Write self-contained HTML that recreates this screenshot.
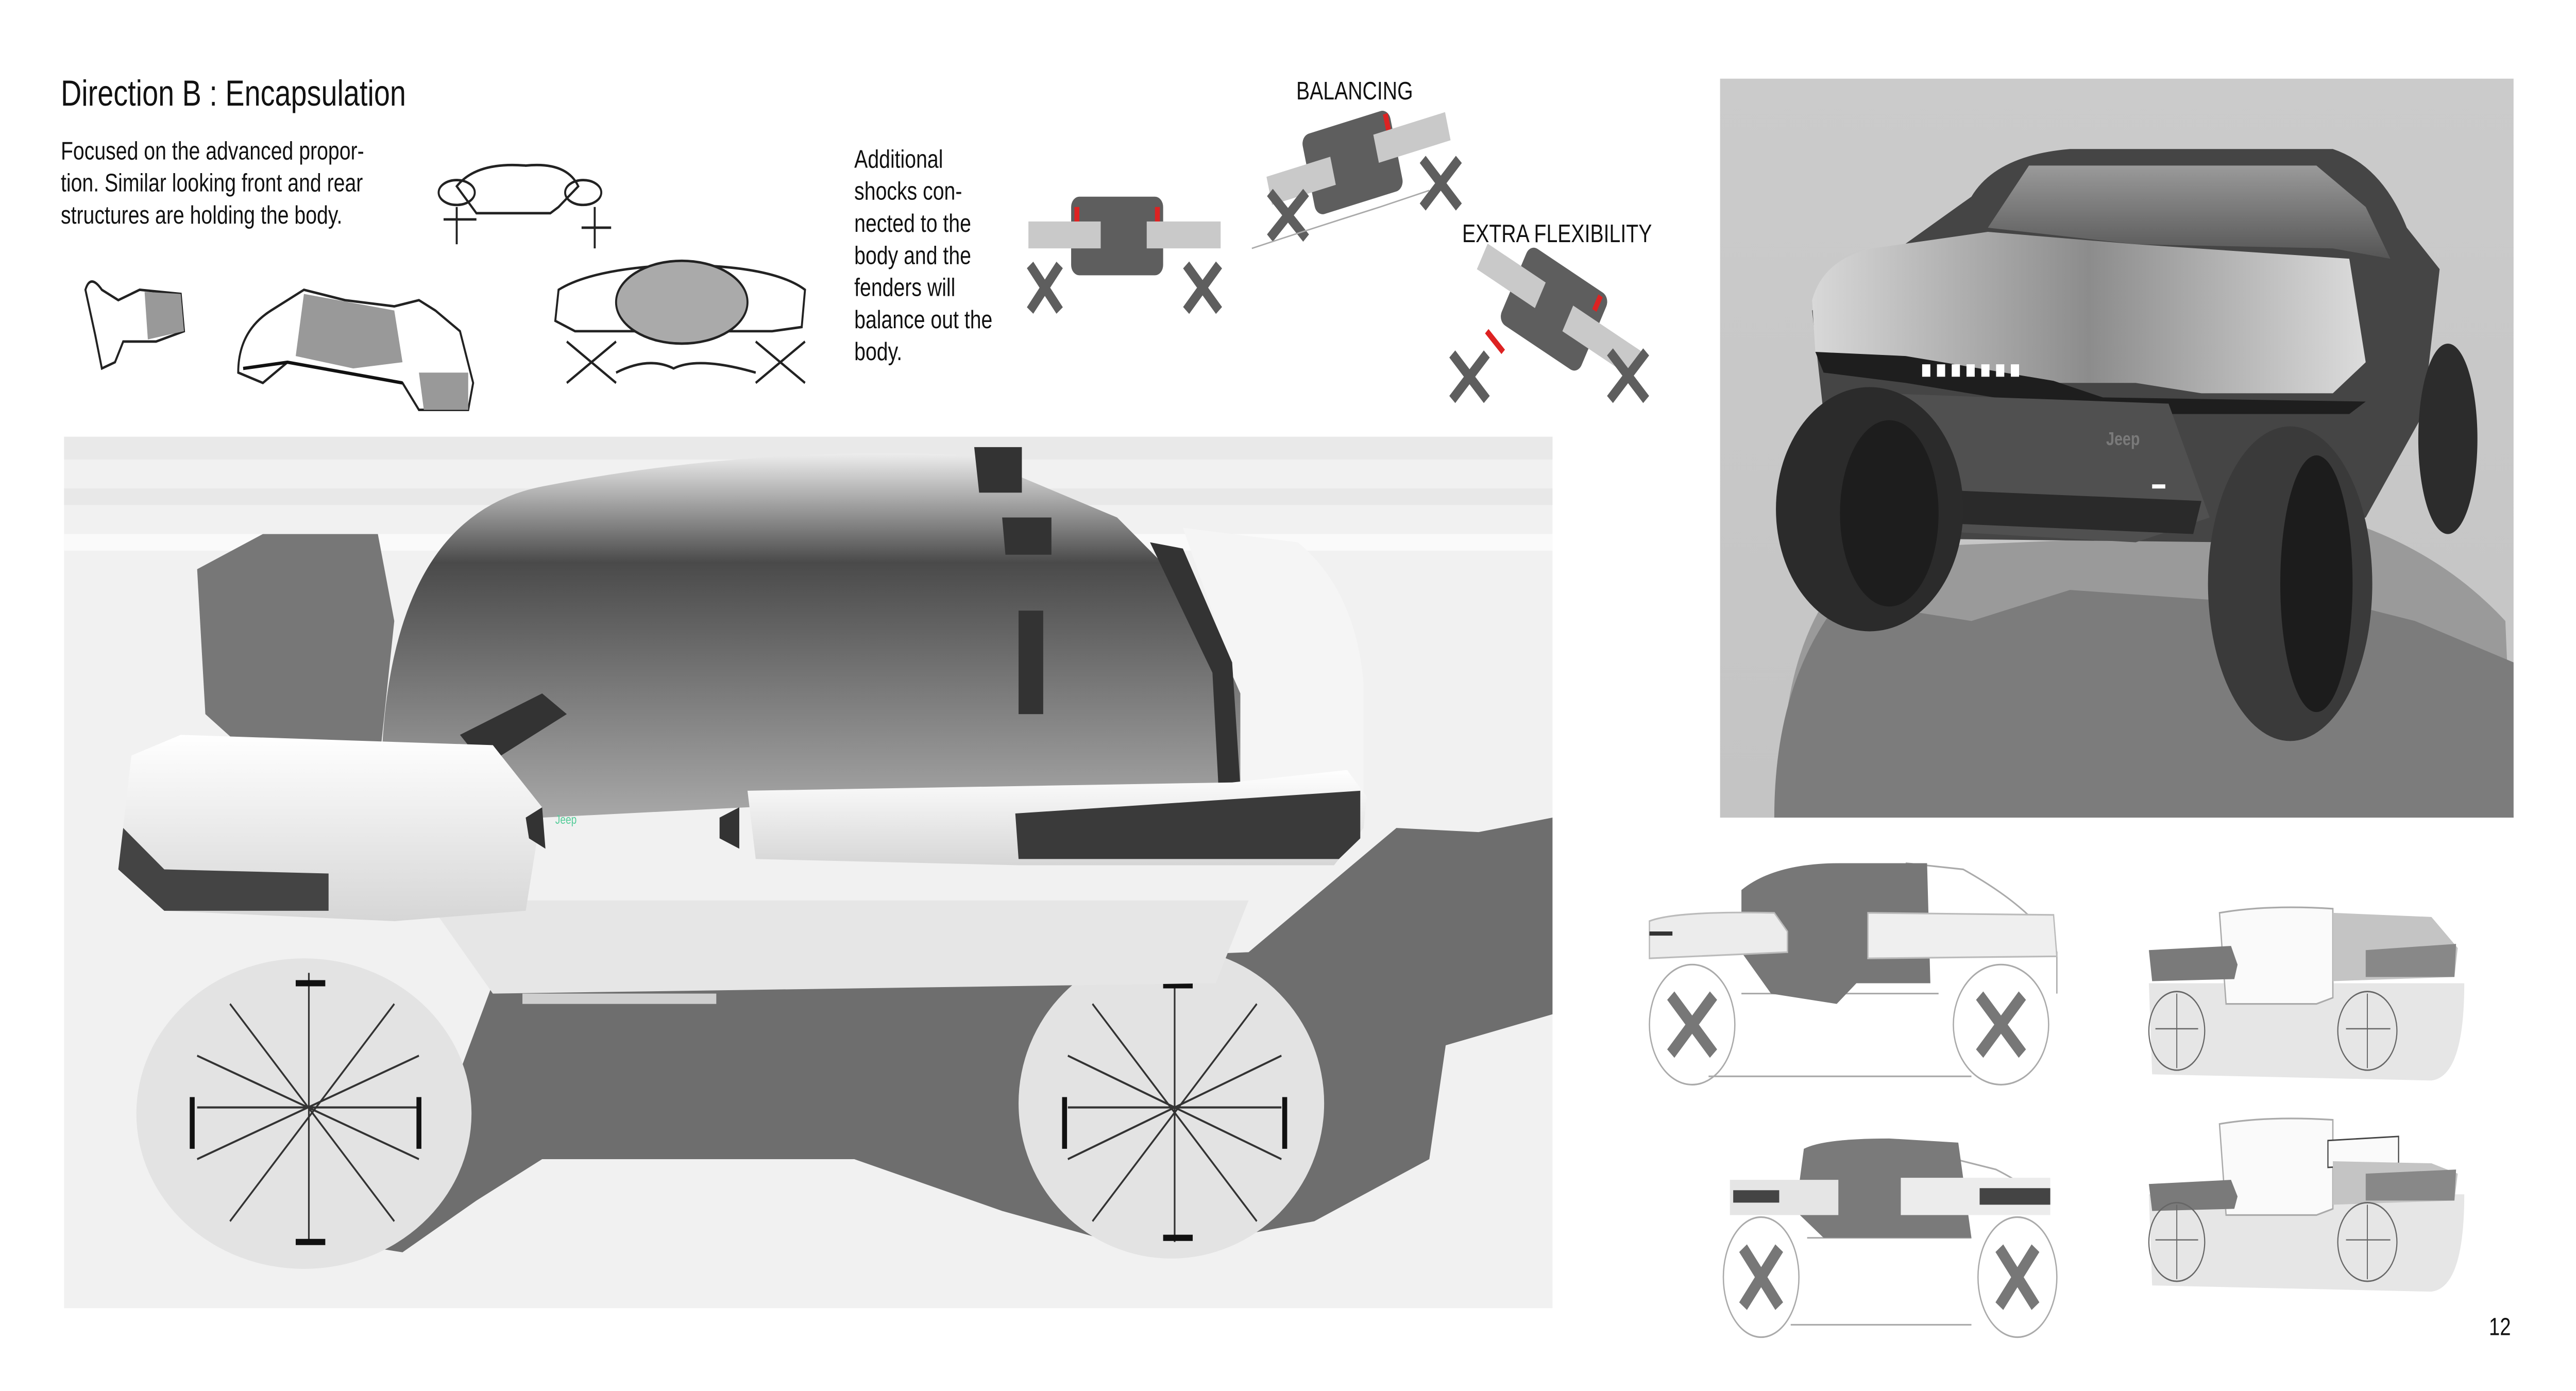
<!DOCTYPE html>
<html><head><meta charset="utf-8"><style>
html,body{margin:0;padding:0;background:#fff;width:100vw;height:100vh;overflow:hidden;}
svg{display:block;width:100vw;height:100vh;}
text{font-family:"Liberation Sans",sans-serif;fill:#111;}
</style></head><body>
<svg viewBox="0 0 1568 672" preserveAspectRatio="none" xmlns="http://www.w3.org/2000/svg">
<defs>
<linearGradient id="can" x1="0" y1="0" x2="0" y2="1">
<stop offset="0" stop-color="#ededed"/><stop offset="0.3" stop-color="#4a4a4a"/><stop offset="0.65" stop-color="#7a7a7a"/><stop offset="1" stop-color="#a8a8a8"/></linearGradient>
<linearGradient id="fen" x1="0" y1="0" x2="0" y2="1">
<stop offset="0" stop-color="#ffffff"/><stop offset="1" stop-color="#d6d6d6"/></linearGradient>
<linearGradient id="rbg" x1="0" y1="0" x2="0" y2="1">
<stop offset="0" stop-color="#cbcbcb"/><stop offset="1" stop-color="#c4c4c4"/></linearGradient>
<linearGradient id="hood" x1="0" y1="0" x2="1" y2="0">
<stop offset="0" stop-color="#d8d8d8"/><stop offset="0.5" stop-color="#8c8c8c"/><stop offset="1" stop-color="#dcdcdc"/></linearGradient>
<linearGradient id="glass" x1="0" y1="0" x2="0" y2="1">
<stop offset="0" stop-color="#9a9a9a"/><stop offset="1" stop-color="#555"/></linearGradient>
</defs>

<text x="37" y="51" font-size="17.5">Direction B : Encapsulation</text>
<text font-size="12.3"><tspan x="37" y="77">Focused on the advanced propor-</tspan><tspan x="37" y="92.5">tion. Similar looking front and rear</tspan><tspan x="37" y="108">structures are holding the body.</tspan></text>
<text font-size="12.3"><tspan x="520" y="81">Additional</tspan><tspan x="520" y="96.5">shocks con-</tspan><tspan x="520" y="112">nected to the</tspan><tspan x="520" y="127.5">body and the</tspan><tspan x="520" y="143">fenders will</tspan><tspan x="520" y="158.5">balance out the</tspan><tspan x="520" y="174">body.</tspan></text>
<text x="789" y="48" font-size="12.3">BALANCING</text>
<text x="890" y="117" font-size="12.3">EXTRA FLEXIBILITY</text>
<text x="1515" y="645" font-size="12">12</text>

<g stroke="#222" stroke-width="1.2" fill="none">
<path d="M52 140 Q55 132 62 140 L72 145 L85 140 L110 142 L112 160 L95 165 L75 165 L70 175 L62 178 L60 170 L58 162 Z" fill="#fff"/>
<path d="M88 141 L110 142 L112 160 L90 164 Z" fill="#999" stroke="none"/>
<path d="M145 180 Q145 160 165 150 L185 140 L210 145 L240 148 L255 145 L265 150 L280 160 L288 185 L285 198 L255 198 L245 185 L210 180 L175 175 L160 185 Z" fill="#fff"/>
<path d="M185 142 L240 150 L245 175 L215 178 L180 172 Z" fill="#999" stroke="none"/>
<path d="M255 180 L285 180 L285 198 L258 198 Z" fill="#999" stroke="none"/>
<path d="M148 178 L175 175 L210 180 L245 185" stroke="#111" stroke-width="1.6"/>
<path d="M278 90 Q290 78 320 80 Q345 78 352 90 L340 100 L335 103 L290 103 Z"/>
<ellipse cx="278" cy="93" rx="11" ry="6"/><ellipse cx="355" cy="93" rx="11" ry="6"/>
<path d="M278 100 V118 M270 106 H290 M362 100 V120 M354 110 H372"/>
<path d="M340 140 Q360 130 410 128 Q470 128 490 140 L488 158 L470 160 L350 160 L338 155 Z" fill="#fff"/>
<ellipse cx="415" cy="146" rx="40" ry="20" fill="#aaa"/>
<path d="M345 165 L375 185 M345 185 L375 165 M460 165 L490 185 M460 185 L490 165 M375 180 Q395 172 410 178 Q425 172 460 180"/>
</g>

<g>
<rect x="652" y="95" width="56" height="38" rx="5" fill="#5e5e5e"/>
<rect x="654" y="100" width="3" height="8" fill="#d22"/><rect x="703" y="100" width="3" height="8" fill="#d22"/>
<rect x="626" y="107" width="44" height="13" fill="#c9c9c9"/><rect x="698" y="107" width="45" height="13" fill="#c9c9c9"/>
<path d="M627 128 L645 150 M645 128 L627 150 M722 128 L742 150 M742 128 L722 150" stroke="#5e5e5e" stroke-width="5"/>
<g transform="rotate(-14 825 75)"><rect x="795" y="58" width="55" height="40" rx="5" fill="#5e5e5e"/>
<rect x="770" y="72" width="40" height="14" fill="#c9c9c9"/><rect x="838" y="68" width="45" height="14" fill="#c9c9c9"/>
<rect x="846" y="60" width="3" height="8" fill="#d22"/></g>
<path d="M773 93 L795 115 M795 93 L773 115 M866 77 L888 100 M888 77 L866 100" stroke="#5e5e5e" stroke-width="5"/>
<path d="M762 120 Q800 110 840 100 L870 92" stroke="#aaa" stroke-width="0.7" fill="none"/>
<g transform="rotate(28 945 150)"><rect x="918" y="128" width="55" height="42" rx="5" fill="#5e5e5e"/>
<rect x="895" y="140" width="40" height="14" fill="#c9c9c9"/><rect x="955" y="142" width="48" height="14" fill="#c9c9c9"/>
<rect x="966" y="130" width="3" height="8" fill="#d22"/></g>
<path d="M905 160 L915 170" stroke="#d22" stroke-width="3"/>
<path d="M884 171 L905 193 M905 171 L884 193 M980 170 L1002 193 M1002 170 L980 193" stroke="#5e5e5e" stroke-width="5"/>
</g>

<rect x="39" y="211" width="906" height="421" fill="#f1f1f1"/>
<rect x="39" y="211" width="906" height="11" fill="#e9e9e9"/>
<rect x="39" y="236" width="906" height="8" fill="#e8e8e8"/>
<rect x="39" y="258" width="906" height="8" fill="#fafafa"/>
<path d="M300 475 L760 460 L850 400 L900 402 L945 395 L945 490 L880 505 L870 560 L800 590 L700 605 L610 585 L520 560 L330 560 L290 580 L245 605 L205 600 L260 560 Z" fill="#6e6e6e"/>
<ellipse cx="185" cy="538" rx="102" ry="75" fill="#e3e3e3"/>
<ellipse cx="713" cy="533" rx="93" ry="75" fill="#e3e3e3"/>
<g stroke="#333" stroke-width="1" fill="none">
<path d="M120 535 H255 M188 470 V600 M140 485 L240 590 M240 485 L140 590 M120 510 L255 560 M255 510 L120 560"/>
<path d="M650 535 H780 M715 470 V600 M665 485 L765 590 M765 485 L665 590 M650 510 L780 560 M780 510 L650 560"/>
</g>
<g stroke="#111" stroke-width="3">
<path d="M117 530 V555 M255 530 V555 M180 475 H198 M180 600 H198 M648 530 V555 M782 530 V555 M708 476 H726 M708 598 H726"/>
</g>
<path d="M260 435 L760 435 L740 475 L300 480 Z" fill="#e6e6e6"/>
<path d="M720 255 L790 262 Q825 285 830 330 L830 385 L745 385 L740 300 Z" fill="#f5f5f5"/>
<path d="M232 375 Q235 250 330 235 Q460 215 590 220 L680 250 L730 290 L755 335 L755 385 L455 390 L330 395 Z" fill="url(#can)"/>
<path d="M700 262 L720 265 L750 320 L755 380 L742 385 L738 325 Z" fill="#333"/>
<path d="M593 216 H622 V238 H596 Z M610 250 H640 V268 H612 Z" fill="#333"/>
<path d="M620 295 H635 V345 H620 Z M280 355 L330 335 L345 345 L295 370 Z" fill="#333"/>
<path d="M120 275 L160 258 L230 258 L240 300 L232 360 L215 372 L160 370 L125 345 Z" fill="#777"/>
<path d="M80 365 L110 355 L300 360 L330 390 L320 440 L240 445 L100 440 L72 420 Z" fill="url(#fen)"/>
<path d="M75 400 L100 420 L200 422 L200 440 L100 440 L72 420 Z" fill="#444"/>
<path d="M455 382 L750 378 L820 372 L832 385 L830 400 L812 418 L620 418 L460 415 Z" fill="url(#fen)"/>
<path d="M618 393 L828 382 L828 405 L815 415 L620 415 Z" fill="#3a3a3a"/>
<path d="M320 395 L330 390 L332 410 L322 405 Z M438 395 L450 390 L450 410 L438 405 Z" fill="#333"/>
<rect x="318" y="480" width="118" height="5" fill="#cfcfcf"/>
<text x="338" y="398" font-size="6" style="fill:#5c9">Jeep</text>

<rect x="1047" y="38" width="483" height="357" fill="url(#rbg)"/>
<path d="M1085 395 Q1080 300 1140 265 L1440 255 Q1490 270 1525 300 L1530 395 Z" fill="#9a9a9a"/>
<path d="M1080 395 Q1080 330 1120 290 L1200 300 L1260 285 L1350 290 L1420 290 L1470 300 L1530 320 L1530 395 Z" fill="#7c7c7c"/>
<path d="M1200 95 Q1215 75 1260 72 L1420 72 Q1450 80 1465 110 L1485 130 L1475 200 L1440 250 L1360 262 L1140 260 L1110 200 L1103 150 Z" fill="#454545"/>
<path d="M1210 110 L1235 80 L1410 80 L1440 100 L1455 125 L1420 120 L1300 118 Z" fill="url(#glass)"/>
<path d="M1103 145 Q1110 125 1140 120 L1210 112 L1300 118 L1430 125 L1440 175 L1420 190 L1340 190 L1300 185 L1250 185 L1200 178 L1130 175 L1105 170 Z" fill="url(#hood)"/>
<path d="M1105 170 L1160 172 L1250 184 L1280 192 L1440 194 L1430 200 L1300 200 L1260 198 L1160 185 L1110 180 Z" fill="#1e1e1e"/>
<g fill="#fff"><rect x="1170" y="176" width="5" height="6"/><rect x="1179" y="176" width="5" height="6"/><rect x="1188" y="176" width="5" height="6"/><rect x="1197" y="176" width="5" height="6"/><rect x="1206" y="176" width="5" height="6"/><rect x="1215" y="176" width="5" height="6"/><rect x="1224" y="176" width="5" height="6"/></g>
<path d="M1145 190 L1320 195 L1345 250 L1300 262 L1145 255 Z" fill="#505050"/>
<text x="1282" y="215" font-size="9" font-weight="bold" style="fill:#7a7a7a">Jeep</text>
<path d="M1160 236 L1340 242 L1335 258 L1160 252 Z" fill="#2a2a2a"/>
<rect x="1167" y="229" width="8" height="2" fill="#fff"/><rect x="1310" y="234" width="8" height="2" fill="#fff"/>
<ellipse cx="1138" cy="246" rx="57" ry="59" fill="#2b2b2b"/>
<ellipse cx="1150" cy="248" rx="30" ry="45" fill="#1d1d1d"/>
<ellipse cx="1394" cy="282" rx="50" ry="76" fill="#3a3a3a"/>
<ellipse cx="1410" cy="282" rx="22" ry="62" fill="#1c1c1c"/>
<ellipse cx="1490" cy="212" rx="18" ry="46" fill="#2c2c2c"/>

<g stroke="#aaa" stroke-width="0.8" fill="none">
<ellipse cx="1030" cy="495" rx="26" ry="29"/><ellipse cx="1218" cy="495" rx="29" ry="29"/>
<path d="M1040 520 L1200 520 M1060 480 L1180 480"/>
<ellipse cx="1072" cy="617" rx="23" ry="29"/><ellipse cx="1228" cy="617" rx="24" ry="29"/>
<path d="M1090 640 L1200 640 M1100 598 L1200 598"/>
<path d="M1160 417 L1195 420 Q1240 440 1252 460 L1252 480"/>
<path d="M1190 560 L1215 565 Q1240 575 1246 585"/>
</g>
<path d="M1060 430 Q1080 417 1120 417 L1173 417 L1175 475 L1130 475 L1118 485 L1078 480 L1060 460 Z" fill="#777"/>
<path d="M1004 445 Q1020 440 1080 441 L1088 450 L1088 460 L1004 463 Z" fill="#ececec" stroke="#bbb" stroke-width="0.8"/>
<rect x="1004" y="450" width="14" height="2" fill="#333"/>
<path d="M1137 441 L1250 442 L1252 462 L1137 463 Z" fill="#efefef" stroke="#bbb" stroke-width="0.8"/>
<path d="M1098 555 Q1110 550 1150 550 L1192 552 L1200 598 L1110 598 L1093 585 Z" fill="#7a7a7a"/>
<path d="M1053 570 L1119 570 L1119 587 L1053 587 Z" fill="#e5e5e5"/>
<rect x="1055" y="575" width="28" height="6" fill="#444"/>
<path d="M1157 569 L1248 569 L1248 587 L1157 587 Z" fill="#ececec"/>
<rect x="1205" y="574" width="43" height="8" fill="#444"/>
<g stroke="#777" stroke-width="6">
<path d="M1017 481 L1043 509 M1043 481 L1017 509 M1205 481 L1231 509 M1231 481 L1205 509 M1061 603 L1083 631 M1083 603 L1061 631 M1217 603 L1239 631 M1239 603 L1217 631"/>
</g>
<g>
<path d="M1308 475 L1500 475 Q1500 520 1480 522 L1310 519 Z" fill="#e6e6e6"/>
<path d="M1351 441 Q1380 437 1420 439 L1420 482 L1410 485 L1355 485 Z" fill="#fafafa" stroke="#aaa" stroke-width="0.8"/>
<path d="M1420 441 L1480 443 L1496 458 L1494 472 L1420 474 Z" fill="#c4c4c4"/>
<path d="M1440 459 L1495 456 L1494 472 L1440 472 Z" fill="#888"/>
<path d="M1308 459 L1358 457 L1362 466 L1360 473 L1310 474 Z" fill="#7a7a7a"/>
<ellipse cx="1325" cy="498" rx="17" ry="19" fill="none" stroke="#666" stroke-width="0.7"/>
<ellipse cx="1441" cy="498" rx="18" ry="19" fill="none" stroke="#666" stroke-width="0.7"/>
<path d="M1312 497 H1338 M1325 480 V516 M1428 497 H1455 M1441 480 V516" stroke="#666" stroke-width="0.6"/>
</g>
<g transform="translate(0 102)">
<path d="M1308 475 L1500 475 Q1500 520 1480 522 L1310 519 Z" fill="#e6e6e6"/>
<path d="M1351 441 Q1380 437 1420 439 L1420 482 L1410 485 L1355 485 Z" fill="#fafafa" stroke="#aaa" stroke-width="0.8"/>
<path d="M1417 449 L1460 447 L1460 460 L1417 462 Z" fill="#fafafa" stroke="#444" stroke-width="0.7"/>
<path d="M1420 459 L1480 460 L1496 465 L1494 478 L1420 480 Z" fill="#c4c4c4"/>
<path d="M1440 465 L1495 463 L1494 478 L1440 478 Z" fill="#888"/>
<path d="M1308 470 L1358 468 L1362 476 L1360 482 L1310 483 Z" fill="#7a7a7a"/>
<ellipse cx="1325" cy="498" rx="17" ry="19" fill="none" stroke="#666" stroke-width="0.7"/>
<ellipse cx="1441" cy="498" rx="18" ry="19" fill="none" stroke="#666" stroke-width="0.7"/>
<path d="M1312 497 H1338 M1325 480 V516 M1428 497 H1455 M1441 480 V516" stroke="#666" stroke-width="0.6"/>
</g>
</svg>
</body></html>
